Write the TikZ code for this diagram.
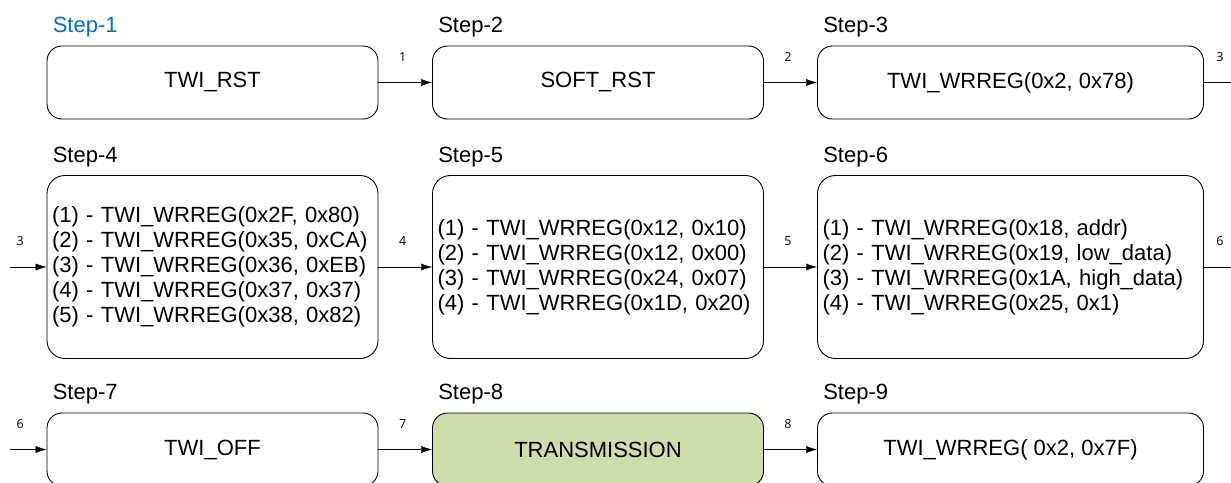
\documentclass[tikz,border=0pt]{standalone}
\usepackage{fontspec}
\setmainfont{Liberation Sans}
\newfontfamily\numfont{Open Sans}
\usetikzlibrary{arrows.meta}
\usetikzlibrary{shapes}

\definecolor{stepblue}{RGB}{0,112,192}
\definecolor{txgreen}{RGB}{206,221,172}

\begin{document}
\begin{tikzpicture}[x=1pt, y=-1pt,
    box/.style={draw, rounded corners=15pt, line width=0.9pt, minimum height=73pt, minimum width=331pt, font=\fontsize{22}{25}\selectfont},
    tallbox/.style={box, minimum height=183pt, rounded corners=18pt, align=left, text width=321pt, inner xsep=5pt},
    wide/.style={minimum width=386pt},
    steplbl/.style={anchor=base west, inner sep=0pt, font=\fontsize{22}{25}\selectfont},
    num/.style={inner sep=0pt, font=\numfont\fontsize{12.5}{14}\selectfont},
    >={Latex[length=11pt,width=7pt]}]
    \useasboundingbox (0,0) rectangle (1231,482);

    % row 1
    \node[box] (s1) at (212.5,82.5) {TWI\_RST};
    \node[box] (s2) at (598,82.5) {SOFT\_RST};
    \node[box, wide] (s3) at (1010.5,82.5) {TWI\_WRREG(0x2, 0x78)};

    % row 2
    \node[tallbox] (s4) at (212.5,267) {(1) - TWI\_WRREG(0x2F, 0x80)\\(2) - TWI\_WRREG(0x35, 0xCA)\\(3) - TWI\_WRREG(0x36, 0xEB)\\(4) - TWI\_WRREG(0x37, 0x37)\\(5) - TWI\_WRREG(0x38, 0x82)};
    \node[tallbox] (s5) at (598,267) {(1) - TWI\_WRREG(0x12, 0x10)\\(2) - TWI\_WRREG(0x12, 0x00)\\(3) - TWI\_WRREG(0x24, 0x07)\\(4) - TWI\_WRREG(0x1D, 0x20)};
    \node[tallbox, wide, text width=376pt] (s6) at (1010.5,267) {(1) - TWI\_WRREG(0x18, addr)\\(2) - TWI\_WRREG(0x19, low\_data)\\(3) - TWI\_WRREG(0x1A, high\_data)\\(4) - TWI\_WRREG(0x25, 0x1)};

    % row 3
    \node[box] (s7) at (212.5,449.5) {TWI\_OFF};
    \node[box, fill=txgreen] (s8) at (598,449.5) {TRANSMISSION};
    \node[box, wide] (s9) at (1010.5,449.5) {TWI\_WRREG( 0x2, 0x7F)};

    \node[steplbl, text=stepblue] (l1) at ([xshift=6pt, yshift=13pt]s1.north west) {Step-1};
    \node[steplbl] (l2) at ([xshift=6pt, yshift=13pt]s2.north west) {Step-2};
    \node[steplbl] (l3) at ([xshift=6pt, yshift=13pt]s3.north west) {Step-3};
    \node[steplbl] (l4) at ([xshift=6pt, yshift=12.5pt]s4.north west) {Step-4};
    \node[steplbl] (l5) at ([xshift=6pt, yshift=12.5pt]s5.north west) {Step-5};
    \node[steplbl] (l6) at ([xshift=6pt, yshift=12.5pt]s6.north west) {Step-6};
    \node[steplbl] (l7) at ([xshift=6pt, yshift=13pt]s7.north west) {Step-7};
    \node[steplbl] (l8) at ([xshift=6pt, yshift=13pt]s8.north west) {Step-8};
    \node[steplbl] (l9) at ([xshift=6pt, yshift=13pt]s9.north west) {Step-9};

    \coordinate (out3) at (1242,82.5);
    \coordinate (in4)  at (10,267);
    \coordinate (out6) at (1242,267);
    \coordinate (in7)  at (10,449.5);

    \draw[->] (s1) -- node[num, pos=0.45, above=21pt] {1} (s2);
    \draw[->] (s2) -- node[num, pos=0.45, above=21pt] {2} (s3);
    \draw[->] (s3) -- node[num, pos=0.42, above=21pt] {3} (out3);
    \draw[->] (in4) -- node[num, pos=0.28, above=21pt] {3} (s4);
    \draw[->] (s4) -- node[num, pos=0.45, above=21pt] {4} (s5);
    \draw[->] (s5) -- node[num, pos=0.45, above=21pt] {5} (s6);
    \draw[->] (s6) -- node[num, pos=0.42, above=21pt] {6} (out6);
    \draw[->] (in7) -- node[num, pos=0.28, above=21pt] {6} (s7);
    \draw[->] (s7) -- node[num, pos=0.45, above=21pt] {7} (s8);
    \draw[->] (s8) -- node[num, pos=0.45, above=21pt] {8} (s9);

\end{tikzpicture}
\end{document}
